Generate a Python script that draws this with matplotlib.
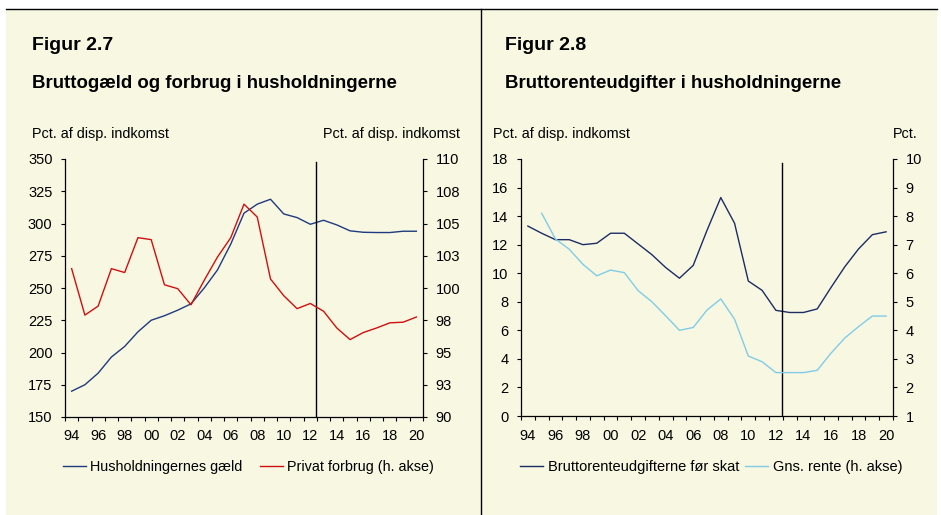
import numpy as np
import matplotlib
matplotlib.use("Agg")
import matplotlib.pyplot as plt
from matplotlib.patches import Rectangle
from matplotlib.lines import Line2D

plt.rcParams['font.family'] = ['Liberation Sans', 'DejaVu Sans']

years = list(range(1994, 2021))
xlabels = ['94', '96', '98', '00', '02', '04', '06', '08', '10', '12', '14', '16', '18', '20']

# Figur 2.7
gaeld = [170, 175, 184, 196.5, 204.7, 216, 225, 228.5, 232.8, 237.7, 250, 264, 284, 308,
         315, 318.8, 307.4, 304.6, 299.4, 302.5, 298.9, 294.3, 293.2, 293, 293, 294, 294]
forbrug = [101.5, 97.9, 98.6, 101.5, 101.2, 103.9, 103.75, 100.25, 99.95, 98.7, 100.6, 102.4,
           103.9, 106.5, 105.5, 100.7, 99.4, 98.4, 98.8, 98.2, 96.9, 96.0, 96.55, 96.9, 97.3,
           97.35, 97.75]
left_ticks_27 = [150, 175, 200, 225, 250, 275, 300, 325, 350]
right_ticks_27 = [90, 92.5, 95, 97.5, 100, 102.5, 105, 107.5, 110]
right_labels_27 = ['90', '93', '95', '98', '100', '103', '105', '108', '110']

# Figur 2.8
renteudg = [13.3, 12.8, 12.35, 12.35, 12.0, 12.1, 12.8, 12.8, 12.05, 11.3, 10.4, 9.65, 10.55,
            13.0, 15.3, 13.5, 9.45, 8.8, 7.4, 7.25, 7.25, 7.5, 9.0, 10.45, 11.7, 12.7, 12.9]
rente_years = list(range(1995, 2021))
rente = [8.1, 7.2, 6.84, 6.31, 5.91, 6.11, 6.02, 5.39, 5.0, 4.51, 4.0, 4.1, 4.71, 5.1, 4.39,
         3.1, 2.9, 2.52, 2.52, 2.52, 2.6, 3.2, 3.73, 4.13, 4.5, 4.5]
left_ticks_28 = list(range(0, 19, 2))
right_ticks_28 = list(range(1, 11))

bg = '#F8F7E1'
navy = '#1F3A80'
red = '#D01010'
darknavy = '#1C2C66'
lightblue = '#80CCE8'

W, H = 941, 515
fig = plt.figure(figsize=(W / 100, H / 100), dpi=100)
fig.patch.set_facecolor('white')

def fx(px):
    return px / W

def fy(py):
    return 1 - py / H

fig.patches.append(Rectangle((fx(6), 0), fx(931), fy(9), transform=fig.transFigure,
                             facecolor=bg, edgecolor='none', zorder=-5))
fig.lines.append(Line2D([fx(6), fx(937)], [fy(9), fy(9)], transform=fig.transFigure,
                        color='black', lw=1.0))
fig.lines.append(Line2D([fx(481), fx(481)], [fy(9), 0], transform=fig.transFigure,
                        color='black', lw=1.0))


def style(ax, ax2):
    for a in (ax, ax2):
        a.set_facecolor('none')
        a.spines['top'].set_visible(False)
        for s in ('left', 'right', 'bottom'):
            a.spines[s].set_linewidth(0.9)
        a.tick_params(axis='y', length=3, width=0.8, direction='out', labelsize=10.5, pad=6)
    ax.spines['right'].set_visible(False)
    ax2.spines['left'].set_visible(False)
    ax2.spines['bottom'].set_visible(False)
    ax.set_xlim(1993.5, 2020.5)
    ax.set_xticks(years[::2])
    ax.set_xticklabels(xlabels)
    ax.set_xticks(np.arange(1993.5, 2021, 1), minor=True)
    ax.tick_params(axis='x', which='major', length=0, labelsize=10.5, pad=9)
    ax.tick_params(axis='x', which='minor', length=3, width=0.8, direction='out')


# ---- left panel
ax = fig.add_axes([fx(65), fy(417), fx(358), (417 - 159) / H])
ax2 = ax.twinx()
l1, = ax.plot(years, gaeld, color=navy, lw=1.0, label='Husholdningernes gæld')
l2, = ax2.plot(years, forbrug, color=red, lw=1.0, label='Privat forbrug (h. akse)')
ax.set_ylim(150, 350)
ax.set_yticks(left_ticks_27)
ax2.set_ylim(90, 110)
ax2.set_yticks(right_ticks_27)
ax2.set_yticklabels(right_labels_27)
style(ax, ax2)
ax.axvline(2012.4, ymin=0, ymax=0.988, color='black', lw=1.0)

fig.text(fx(32), fy(46), 'Figur 2.7', fontsize=14, fontweight='bold', va='center')
fig.text(fx(32), fy(83), 'Bruttogæld og forbrug i husholdningerne', fontsize=13.4,
         fontweight='bold', va='center')
fig.text(fx(32), fy(134), 'Pct. af disp. indkomst', fontsize=10.4, va='center')
fig.text(fx(460), fy(134), 'Pct. af disp. indkomst', fontsize=10.4, va='center', ha='right')
fig.legend(handles=[l1, l2], loc='center left', bbox_to_anchor=(fx(63), fy(467)),
           ncol=2, frameon=False, fontsize=10.4, handlelength=1.6, handletextpad=0.3,
           columnspacing=1.2, borderaxespad=0, borderpad=0)

# ---- right panel
bx = fig.add_axes([fx(521), fy(416), fx(372), (416 - 159) / H])
bx2 = bx.twinx()
m1, = bx.plot(years, renteudg, color=darknavy, lw=1.0, label='Bruttorenteudgifterne før skat')
m2, = bx2.plot(rente_years, rente, color=lightblue, lw=1.0, label='Gns. rente (h. akse)')
bx.set_ylim(0, 18)
bx.set_yticks(left_ticks_28)
bx2.set_ylim(1, 10)
bx2.set_yticks(right_ticks_28)
style(bx, bx2)
bx.axvline(2012.45, ymin=0, ymax=0.984, color='black', lw=1.0)

fig.text(fx(505), fy(46), 'Figur 2.8', fontsize=14, fontweight='bold', va='center')
fig.text(fx(505), fy(83), 'Bruttorenteudgifter i husholdningerne', fontsize=13.4,
         fontweight='bold', va='center')
fig.text(fx(493), fy(134), 'Pct. af disp. indkomst', fontsize=10.4, va='center')
fig.text(fx(918), fy(134), 'Pct.', fontsize=10.4, va='center', ha='right')
fig.legend(handles=[m1, m2], loc='center left', bbox_to_anchor=(fx(520), fy(467)),
           ncol=2, frameon=False, fontsize=10.5, handlelength=1.6, handletextpad=0.3,
           columnspacing=0.4, borderaxespad=0, borderpad=0)

fig.savefig('out.png', dpi=100, facecolor=fig.get_facecolor())
